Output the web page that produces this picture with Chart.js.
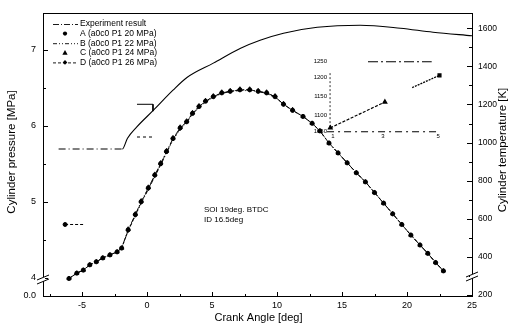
<!DOCTYPE html>
<html><head><meta charset="utf-8">
<script src="https://cdn.jsdelivr.net/npm/chart.js@4.4.0/dist/chart.umd.min.js"></script>
<style>html,body{margin:0;padding:0;background:#fff;}#wrap{width:513px;height:328px;position:relative;}</style>
</head><body><div id="wrap"><canvas id="c" width="513" height="328"></canvas></div>
<script>
// ---- tick labels ----
const angleTicks = [-5, 0, 5, 10, 15, 20, 25];
const pressureTicks = [4, 5, 6, 7];
const tempTicks = [200, 400, 600, 800, 1000, 1200, 1400, 1600];

// ---- pressure series (left axis, MPa) ----
const crankAngle = [-6.0,-5.4,-4.9,-4.4,-3.9,-3.4,-2.85,-2.3,-1.95,-1.45,-0.9,-0.45,0.1,0.6,1.05,1.5,2.0,2.55,3.05,3.5,4.0,4.5,5.1,5.75,6.4,7.15,7.9,8.55,9.2,9.85,10.5,11.2,12.0,12.7,13.3,14.0,14.7,15.4,16.1,16.8,17.5,18.2,18.9,19.6,20.3,21.0,21.6,22.2,22.8];
const pressureExp = [3.99,4.06,4.10,4.17,4.21,4.26,4.30,4.34,4.39,4.63,4.83,5.00,5.18,5.35,5.50,5.66,5.83,5.97,6.05,6.16,6.25,6.32,6.38,6.43,6.45,6.47,6.47,6.45,6.43,6.38,6.28,6.20,6.12,6.03,5.93,5.77,5.64,5.51,5.38,5.26,5.12,4.98,4.84,4.70,4.56,4.43,4.32,4.20,4.09];
const pressureA = [3.99,4.06,4.10,4.17,4.21,4.26,4.30,4.34,4.39,4.63,4.83,5.00,5.18,5.35,5.50,5.66,5.83,5.97,6.05,6.16,6.25,6.32,6.38,6.43,6.45,6.47,6.47,6.45,6.43,6.38,6.28,6.20,6.12,6.03,5.93,5.77,5.64,5.51,5.38,5.26,5.12,4.98,4.84,4.70,4.56,4.43,4.32,4.20,4.09];
const pressureB = [3.99,4.06,4.10,4.17,4.21,4.26,4.30,4.34,4.39,4.62,4.81,4.98,5.16,5.33,5.48,5.64,5.81,5.95,6.04,6.15,6.24,6.31,6.37,6.42,6.45,6.46,6.46,6.45,6.42,6.37,6.28,6.20,6.12,6.03,5.93,5.77,5.64,5.51,5.38,5.26,5.12,4.98,4.84,4.70,4.56,4.43,4.32,4.20,4.09];
const pressureC = [3.99,4.06,4.10,4.17,4.21,4.26,4.30,4.34,4.39,4.64,4.84,5.01,5.19,5.36,5.51,5.67,5.84,5.98,6.06,6.17,6.26,6.33,6.39,6.44,6.46,6.48,6.48,6.46,6.44,6.39,6.29,6.21,6.12,6.03,5.93,5.77,5.64,5.51,5.38,5.26,5.12,4.98,4.84,4.70,4.56,4.43,4.32,4.20,4.09];
const pressureD = [3.99,4.06,4.10,4.17,4.21,4.26,4.30,4.34,4.39,4.62,4.82,4.99,5.17,5.34,5.49,5.65,5.82,5.96,6.05,6.16,6.25,6.32,6.38,6.43,6.45,6.47,6.47,6.45,6.43,6.38,6.28,6.20,6.12,6.03,5.93,5.77,5.64,5.51,5.38,5.26,5.12,4.98,4.84,4.70,4.56,4.43,4.32,4.20,4.09];

// ---- temperature curve (right axis, K) ----
const tempAngle = [-6.8,-1.9,-1.5,-0.8,0.5,2.0,3.1,5.1,7.2,8.7,10.5,13.1,16.4,19.5,22.0,25.0];
const temperature = [966,966,1023,1081,1170,1275,1343,1417,1495,1537,1574,1605,1616,1600,1579,1561];

// ---- inset / fragment marks (left-axis coordinates) ----
const insetLowAngle = [14.1, 16.2, 18.3];
const insetLowP = [5.97, 6.14, 6.31];
const insetHighAngle = [20.4, 22.5];
const insetHighP = [6.50, 6.66];
const insetTopAngle = [17.0, 21.9];
const insetTopP = [6.84, 6.84];
const insetBaseAngle = [13.85, 22.3];
const insetBaseP = [5.92, 5.92];
const insetAxisAngle = [14.08, 14.08];
const insetAxisP = [5.98, 6.69];
const insetYLabels = ['1250', '1200', '1150', '1100', '1050'];
const insetYLabelP = [6.84, 6.64, 6.38, 6.14, 5.92];
const insetXLabels = ['1', '3', '5'];
const insetXLabelAngle = [14.3, 18.15, 22.4];
const fragUpperAngle = [-0.77, 0.46, 0.46];
const fragUpperP = [6.28, 6.28, 6.19];
const fragLowerAngle = [-0.77, 0.46];
const fragLowerP = [5.85, 5.85];
const fragLeftAngle = [-6.3, -4.9];
const fragLeftP = [4.70, 4.70];

const seriesLabels = ['Experiment result', 'A (a0c0 P1 20 MPa)', 'B (a0c0 P1 22 MPa)', 'C (a0c0 P1 24 MPa)', 'D (a0c0 P1 26 MPa)'];
const notes = ['SOI 19deg. BTDC', 'ID 16.5deg'];

const pts = (xs, ys) => xs.map((x, i) => ({x: x, y: ys[i]}));
const Y_MIN = 3.76;

function lineSet(label, xs, ys, dash, extra) {
  return Object.assign({
    label: label, data: pts(xs, ys), yAxisID: 'y', showLine: true,
    borderColor: '#000', backgroundColor: '#000', borderWidth: 0.9,
    borderDash: dash, pointRadius: 0, legendHide: true
  }, extra || {});
}

const datasets = [
  {label: seriesLabels[0], data: pts(crankAngle, pressureExp), yAxisID: 'y', showLine: true,
   borderColor: '#000', borderWidth: 0.9, borderDash: [6, 2, 1, 2], pointRadius: 0},
  {label: seriesLabels[1], data: pts(crankAngle, pressureA), yAxisID: 'y', showLine: false,
   borderColor: '#000', backgroundColor: '#000', pointStyle: 'circle', pointRadius: 2.1, borderWidth: 0.8},
  {label: seriesLabels[2], data: pts(crankAngle, pressureB), yAxisID: 'y', showLine: true,
   borderColor: '#000', backgroundColor: '#000', borderWidth: 0.9, borderDash: [4, 2, 1, 2, 1, 2], pointRadius: 0},
  {label: seriesLabels[3], data: pts(crankAngle, pressureC), yAxisID: 'y', showLine: false,
   borderColor: '#000', backgroundColor: '#000', pointStyle: 'triangle', pointRadius: 2.4, borderWidth: 0.8},
  {label: seriesLabels[4], data: pts(crankAngle, pressureD), yAxisID: 'y', showLine: true,
   borderColor: '#000', backgroundColor: '#000', borderWidth: 0.9, borderDash: [3, 2], pointStyle: 'rectRot', pointRadius: 1.8},
  {label: 'Temperature', data: pts(tempAngle, temperature), yAxisID: 'yT', showLine: true,
   borderColor: '#000', borderWidth: 1.1, pointRadius: 0, cubicInterpolationMode: 'monotone', legendHide: true,
   segment: {borderDash: c => (c.p1.parsed.x <= -1.85 ? [7, 3, 1, 3] : undefined)}},
  lineSet('inset low', insetLowAngle, insetLowP, [3, 1.5], {pointRadius: [2.2, 0, 2.2], pointStyle: 'triangle', borderWidth: 1.2}),
  lineSet('inset high', insetHighAngle, insetHighP, [2, 1], {pointRadius: [0, 2], pointStyle: 'rect', borderWidth: 1.3}),
  lineSet('inset top', insetTopAngle, insetTopP, [10, 3, 2, 3], {borderWidth: 1.1}),
  lineSet('inset base', insetBaseAngle, insetBaseP, [7, 4, 2, 4], {borderWidth: 1.1}),
  lineSet('inset axis', insetAxisAngle, insetAxisP, [2, 2], {borderWidth: 0.8}),
  lineSet('frag upper', fragUpperAngle, fragUpperP, [], {borderWidth: 1}),
  lineSet('frag lower', fragLowerAngle, fragLowerP, [3, 3], {borderWidth: 1}),
  lineSet('frag left', fragLeftAngle, fragLeftP, [3, 2], {pointRadius: [2, 0], pointStyle: 'circle', borderWidth: 1})
];

const FONT = '"Liberation Sans", Arial, Helvetica, sans-serif';

function marker(ctx, style, x, y, r) {
  ctx.beginPath();
  if (style === 'circle') { ctx.arc(x, y, r, 0, Math.PI * 2); }
  else if (style === 'triangle') { ctx.moveTo(x, y - r * 1.2); ctx.lineTo(x + r * 1.1, y + r * 0.8); ctx.lineTo(x - r * 1.1, y + r * 0.8); ctx.closePath(); }
  else if (style === 'rectRot') { ctx.moveTo(x, y - r * 1.3); ctx.lineTo(x + r * 1.3, y); ctx.lineTo(x, y + r * 1.3); ctx.lineTo(x - r * 1.3, y); ctx.closePath(); }
  else { ctx.rect(x - r, y - r, 2 * r, 2 * r); }
  ctx.fill();
}

const decor = {
  id: 'decor',
  afterDraw(chart) {
    const ctx = chart.ctx, a = chart.chartArea;
    const sx = chart.scales.x, sy = chart.scales.y, st = chart.scales.yT;
    ctx.save();
    ctx.strokeStyle = '#000'; ctx.fillStyle = '#000'; ctx.lineWidth = 1; ctx.setLineDash([]);
    // top frame
    ctx.beginPath(); ctx.moveTo(a.left, a.top + 0.5); ctx.lineTo(a.right, a.top + 0.5); ctx.stroke();
    // inward ticks
    ctx.beginPath();
    angleTicks.forEach(v => { const p = Math.round(sx.getPixelForValue(v)) + 0.5; ctx.moveTo(p, a.bottom); ctx.lineTo(p, a.bottom - 4); });
    angleTicks.forEach(v => { const p = Math.round(sx.getPixelForValue(v - 2.5)) + 0.5; ctx.moveTo(p, a.bottom); ctx.lineTo(p, a.bottom - 2); });
    pressureTicks.forEach(v => { const p = Math.round(sy.getPixelForValue(v)) + 0.5; ctx.moveTo(a.left, p); ctx.lineTo(a.left + 5, p); });
    [4.5, 5.5, 6.5].forEach(v => { const p = Math.round(sy.getPixelForValue(v)) + 0.5; ctx.moveTo(a.left, p); ctx.lineTo(a.left + 3, p); });
    tempTicks.forEach(v => { const p = Math.round(st.getPixelForValue(v)) + 0.5; ctx.moveTo(a.right, p); ctx.lineTo(a.right - 5, p); });
    tempTicks.slice(1).forEach(v => { const p = Math.round(st.getPixelForValue(v - 100)) + 0.5; ctx.moveTo(a.right, p); ctx.lineTo(a.right - 3, p); });
    ctx.stroke();
    // axis breaks
    [[a.left, 279], [a.right, 276]].forEach(([bx, by]) => {
      ctx.fillStyle = '#fff'; ctx.fillRect(bx - 2, by - 2, 4, 4);
      ctx.beginPath(); ctx.moveTo(bx - 6, by + 1); ctx.lineTo(bx + 6, by - 4);
      ctx.moveTo(bx - 6, by + 5); ctx.lineTo(bx + 6, by); ctx.stroke();
    });
    ctx.fillStyle = '#000';
    // legend
    let ly = 24;
    chart.data.datasets.forEach(ds => {
      if (ds.legendHide) return;
      if (ds.showLine) {
        ctx.setLineDash(ds.borderDash || []); ctx.lineWidth = 0.9;
        ctx.beginPath(); ctx.moveTo(53, ly + 0.5); ctx.lineTo(78, ly + 0.5); ctx.stroke();
        ctx.setLineDash([]);
      }
      if (ds.pointRadius > 0) marker(ctx, ds.pointStyle, 65, ly, ds.pointRadius);
      ctx.font = '8.5px ' + FONT; ctx.textAlign = 'left'; ctx.textBaseline = 'middle';
      ctx.fillText(ds.label, 80, ly);
      ly += 9.6;
    });
    // notes
    ctx.font = '8px ' + FONT; ctx.textAlign = 'left'; ctx.textBaseline = 'middle';
    ctx.fillText(notes[0], 204, 210);
    ctx.fillText(notes[1], 204, 220);
    // inset labels
    ctx.font = '6px ' + FONT; ctx.textAlign = 'right';
    const ix = sx.getPixelForValue(insetAxisAngle[0]);
    insetYLabels.forEach((t, i) => ctx.fillText(t, ix - 3, sy.getPixelForValue(insetYLabelP[i])));
    ctx.textAlign = 'center'; ctx.textBaseline = 'top';
    insetXLabels.forEach((t, i) => ctx.fillText(t, sx.getPixelForValue(insetXLabelAngle[i]), sy.getPixelForValue(insetBaseP[0]) + 2));
    // axis titles
    ctx.font = '11px ' + FONT; ctx.textAlign = 'center'; ctx.textBaseline = 'middle';
    ctx.fillText('Crank Angle [deg]', (a.left + a.right) / 2 + 1, 318);
    ctx.font = '11.5px ' + FONT;
    ctx.save(); ctx.translate(12, 152); ctx.rotate(-Math.PI / 2); ctx.fillText('Cylinder pressure [MPa]', 0, 0); ctx.restore();
    ctx.save(); ctx.translate(503, 150); ctx.rotate(-Math.PI / 2); ctx.fillText('Cylinder temperature [K]', 0, 0); ctx.restore();
    ctx.restore();
  }
};

new Chart(document.getElementById('c'), {
  type: 'scatter',
  data: {datasets: datasets},
  options: {
    responsive: false, animation: false, devicePixelRatio: 1,
    layout: {padding: {top: 13, left: 0, right: 0, bottom: 0}},
    plugins: {legend: {display: false}, tooltip: {enabled: false}},
    elements: {line: {tension: 0}},
    scales: {
      x: {
        type: 'linear', min: -8, max: 25,
        afterBuildTicks: s => { s.ticks = angleTicks.map(v => ({value: v})); },
        afterFit: s => { s.height = 32; },
        ticks: {color: '#000', font: {size: 9, family: FONT}, padding: 4, maxRotation: 0, autoSkip: false,
                callback: v => String(v)},
        grid: {display: false, drawTicks: false},
        border: {display: true, color: '#000', width: 1}
      },
      y: {
        type: 'linear', position: 'left', min: Y_MIN, max: 7.48,
        afterBuildTicks: s => { s.ticks = [Y_MIN].concat(pressureTicks).map(v => ({value: v})); },
        afterFit: s => { s.width = 43; },
        ticks: {color: '#000', font: {size: 9, family: FONT}, padding: 7, autoSkip: false,
                callback: v => (Math.abs(v - Y_MIN) < 1e-6 ? '0.0' : String(v))},
        grid: {display: false, drawTicks: false},
        border: {display: true, color: '#000', width: 1}
      },
      yT: {
        type: 'linear', position: 'right', min: 195, max: 1680,
        afterBuildTicks: s => { s.ticks = tempTicks.map(v => ({value: v})); },
        afterFit: s => { s.width = 41; },
        ticks: {color: '#000', font: {size: 8.5, family: FONT}, padding: 6, autoSkip: false,
                callback: v => String(v)},
        grid: {display: false, drawTicks: false},
        border: {display: true, color: '#000', width: 1}
      }
    }
  },
  plugins: [decor]
});
</script></body></html>
